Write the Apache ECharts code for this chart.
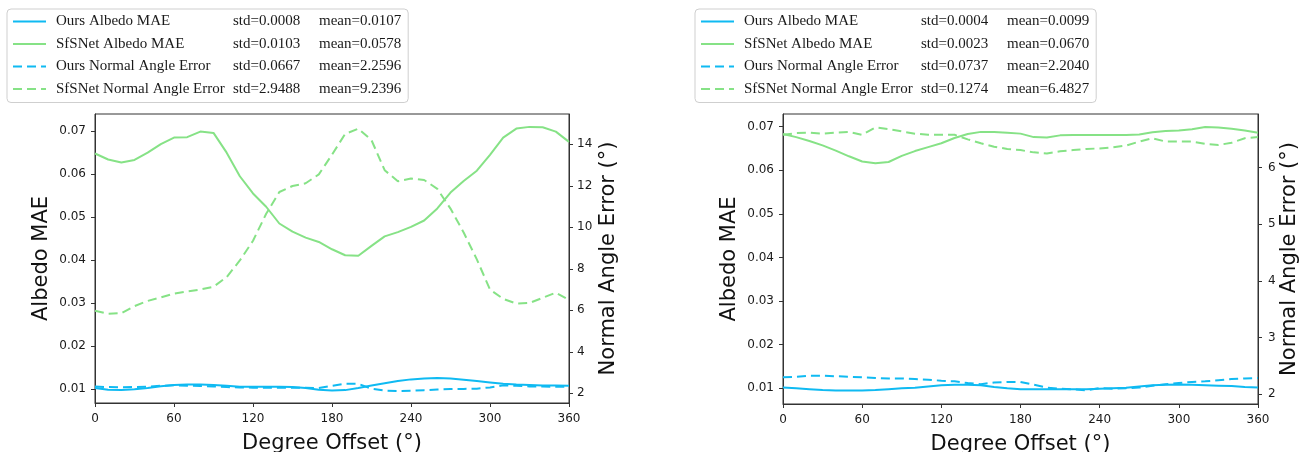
<!DOCTYPE html>
<html><head><meta charset="utf-8">
<script src="https://cdn.jsdelivr.net/npm/echarts@6/dist/echarts.min.js"></script>
<style>html,body{margin:0;padding:0;background:#fff}#c{width:1299px;height:452px}</style>
</head><body><div id="c"></div>
<script>
// ---------- data ----------
const degrees = [0,10,20,30,40,50,60,70,80,90,100,110,120,130,140,150,160,170,180,190,200,210,220,230,240,250,260,270,280,290,300,310,320,330,340,350,360];
const xTicks = [0,60,120,180,240,300,360];
const albedoTicks = [0.01,0.02,0.03,0.04,0.05,0.06,0.07];
const leftNormalTicks = [2,4,6,8,10,12,14];
const rightNormalTicks = [2,3,4,5,6];

const seriesNames = ['Ours Albedo MAE','SfSNet Albedo MAE','Ours Normal Angle Error','SfSNet Normal Angle Error'];
const leftStd  = ['0.0008','0.0103','0.0667','2.9488'];
const leftMean = ['0.0107','0.0578','2.2596','9.2396'];
const rightStd  = ['0.0004','0.0023','0.0737','0.1274'];
const rightMean = ['0.0099','0.0670','2.2040','6.4827'];

// left chart
const L_oursAlb = [0.0102,0.0098,0.0097,0.0099,0.0102,0.0106,0.0109,0.0110,0.0110,0.0109,0.0107,0.0105,0.0105,0.0105,0.0105,0.0104,0.0102,0.0098,0.0096,0.0097,0.0102,0.0108,0.0113,0.0118,0.0122,0.0124,0.0125,0.0124,0.0121,0.0118,0.0115,0.0112,0.0110,0.0109,0.0108,0.0108,0.0107];
const L_sfsAlb = [0.0648,0.0634,0.0627,0.0633,0.0650,0.0670,0.0685,0.0686,0.0699,0.0696,0.0650,0.0595,0.0555,0.0524,0.0485,0.0466,0.0452,0.0442,0.0425,0.0411,0.0410,0.0433,0.0455,0.0465,0.0477,0.0492,0.0520,0.0557,0.0584,0.0608,0.0645,0.0685,0.0706,0.0710,0.0709,0.0699,0.0675];
const L_oursNorm = [2.32,2.30,2.29,2.30,2.32,2.36,2.38,2.36,2.35,2.33,2.30,2.28,2.27,2.27,2.26,2.27,2.27,2.25,2.36,2.46,2.45,2.22,2.13,2.11,2.12,2.15,2.18,2.20,2.21,2.22,2.28,2.38,2.36,2.33,2.32,2.31,2.32];
const L_sfsNorm = [5.98,5.83,5.86,6.20,6.45,6.62,6.80,6.91,7.00,7.13,7.60,8.40,9.35,10.65,11.70,11.99,12.12,12.55,13.50,14.50,14.75,14.20,12.75,12.22,12.35,12.28,11.85,10.90,9.75,8.45,7.00,6.55,6.32,6.35,6.60,6.85,6.50];

// right chart
const R_oursAlb = [0.0102,0.0100,0.0098,0.0096,0.0095,0.0095,0.0095,0.0096,0.0098,0.0100,0.0101,0.0104,0.0107,0.0108,0.0108,0.0107,0.0103,0.0100,0.0098,0.0098,0.0098,0.0098,0.0098,0.0098,0.0099,0.0100,0.0101,0.0104,0.0107,0.0108,0.0109,0.0108,0.0107,0.0106,0.0105,0.0103,0.0102];
const R_sfsAlb = [0.0683,0.0676,0.0667,0.0657,0.0645,0.0632,0.0620,0.0616,0.0619,0.0633,0.0644,0.0653,0.0662,0.0674,0.0683,0.0688,0.0688,0.0686,0.0684,0.0676,0.0675,0.0680,0.0681,0.0681,0.0681,0.0681,0.0681,0.0682,0.0687,0.0690,0.0691,0.0694,0.0699,0.0698,0.0695,0.0691,0.0686];
const R_oursNorm = [2.30,2.31,2.33,2.33,2.32,2.31,2.30,2.29,2.28,2.28,2.27,2.26,2.24,2.23,2.20,2.18,2.21,2.22,2.22,2.17,2.12,2.10,2.09,2.07,2.11,2.10,2.11,2.12,2.15,2.18,2.20,2.22,2.23,2.25,2.27,2.28,2.29];
const R_sfsNorm = [6.58,6.61,6.62,6.60,6.62,6.63,6.58,6.71,6.68,6.64,6.60,6.58,6.58,6.58,6.50,6.43,6.37,6.33,6.31,6.27,6.25,6.29,6.31,6.33,6.34,6.36,6.39,6.46,6.52,6.46,6.46,6.46,6.42,6.40,6.44,6.52,6.54];

// ---------- chart ----------
const BLUE = '#0fbaf2', GREEN = '#86e286';
const AX = '#333', TXT = '#1a1a1a';
const pair = arr => degrees.map((d, i) => [d, arr[i]]);

function xAxisFor(g) {
  return {
    gridIndex: g, type: 'value', min: 0, max: 360, interval: 60,
    name: 'Degree Offset (°)', nameLocation: 'middle', nameGap: 30,
    nameTextStyle: { fontSize: 21, fontFamily: 'DejaVu Sans', color: '#111' },
    axisLine: { show: true, lineStyle: { color: AX } },
    axisTick: { show: true, length: 4, lineStyle: { color: AX } },
    axisLabel: { fontSize: 12, fontFamily: 'DejaVu Sans', color: TXT, margin: 10 },
    splitLine: { show: false }
  };
}
function yAxisFor(g, pos, min, max, ticks, fmt, name, gap, margin) {
  return {
    gridIndex: g, type: 'value', position: pos, min: min, max: max,
    name: name, nameLocation: 'middle', nameGap: gap,
    nameTextStyle: { fontSize: 21, fontFamily: 'DejaVu Sans', color: '#111' },
    axisLine: { show: true, onZero: false, lineStyle: { color: AX } },
    axisTick: { show: true, length: 4, customValues: ticks, lineStyle: { color: AX } },
    axisLabel: { fontSize: 12, fontFamily: 'DejaVu Sans', color: TXT, margin: margin,
      customValues: ticks, formatter: fmt },
    splitLine: { show: false }
  };
}
function legendFor(left, std, mean) {
  return {
    orient: 'vertical', left: left, top: 9,
    data: seriesNames,
    itemWidth: 33, itemHeight: 14, itemGap: 7.5,
    padding: [5, 7, 6, 5],
    borderColor: '#cfcfcf', borderWidth: 1, borderRadius: 4,
    backgroundColor: '#fff',
    selectedMode: false,
    itemStyle: { opacity: 0 },
    formatter: name => {
      const i = seriesNames.indexOf(name);
      return '{n|' + name + '}{s|std=' + std[i] + '}{m|mean=' + mean[i] + '}';
    },
    textStyle: {
      fontFamily: 'Liberation Serif', fontSize: 15, color: TXT, lineHeight: 15,
      rich: {
        n: { fontFamily: 'Liberation Serif', fontSize: 15, color: TXT, lineHeight: 15, width: 177, padding: [0, 0, 0, 5] },
        s: { fontFamily: 'Liberation Serif', fontSize: 15, color: TXT, lineHeight: 15, width: 86 },
        m: { fontFamily: 'Liberation Serif', fontSize: 15, color: TXT, lineHeight: 15, width: 82 }
      }
    }
  };
}
function line(name, xi, yi, arr, color, dashed) {
  return {
    name: name, type: 'line', xAxisIndex: xi, yAxisIndex: yi,
    data: pair(arr), symbol: 'none', smooth: false, animation: false,
    lineStyle: { color: color, width: 2, type: dashed ? [9, 5] : 'solid' },
    itemStyle: { color: color }
  };
}

const chart = echarts.init(document.getElementById('c'), null, { renderer: 'canvas' });
chart.setOption({
  animation: false,
  backgroundColor: '#fff',
  grid: [
    { left: 95, top: 114, width: 474, height: 289, outerBoundsMode: 'none', containLabel: false,
      show: true, borderColor: AX, borderWidth: 1, backgroundColor: 'transparent' },
    { left: 783, top: 114, width: 475, height: 290, outerBoundsMode: 'none', containLabel: false,
      show: true, borderColor: AX, borderWidth: 1, backgroundColor: 'transparent' }
  ],
  legend: [ legendFor(7, leftStd, leftMean), legendFor(695, rightStd, rightMean) ],
  xAxis: [ xAxisFor(0), xAxisFor(1) ],
  yAxis: [
    yAxisFor(0, 'left', 0.0067, 0.074, albedoTicks, v => v.toFixed(2), 'Albedo MAE', 43, 9),
    yAxisFor(0, 'right', 1.53, 15.46, leftNormalTicks, v => String(Math.round(v)), 'Normal Angle Error (°)', 29, 8),
    yAxisFor(1, 'left', 0.0064, 0.0729, albedoTicks, v => v.toFixed(2), 'Albedo MAE', 43, 9),
    yAxisFor(1, 'right', 1.83, 6.947, rightNormalTicks, v => String(Math.round(v)), 'Normal Angle Error (°)', 21, 10)
  ],
  series: [
    line(seriesNames[0], 0, 0, L_oursAlb, BLUE, false),
    line(seriesNames[1], 0, 0, L_sfsAlb, GREEN, false),
    line(seriesNames[2], 0, 1, L_oursNorm, BLUE, true),
    line(seriesNames[3], 0, 1, L_sfsNorm, GREEN, true),
    line(seriesNames[0], 1, 2, R_oursAlb, BLUE, false),
    line(seriesNames[1], 1, 2, R_sfsAlb, GREEN, false),
    line(seriesNames[2], 1, 3, R_oursNorm, BLUE, true),
    line(seriesNames[3], 1, 3, R_sfsNorm, GREEN, true)
  ]
});
</script>
</body></html>
